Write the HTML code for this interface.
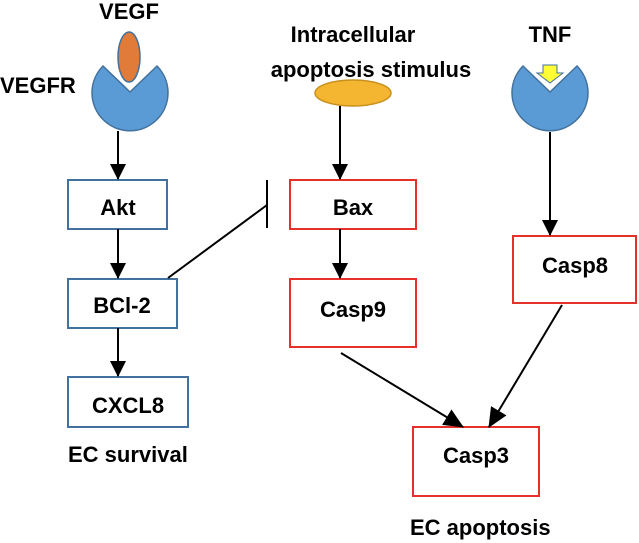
<!DOCTYPE html>
<html><head><style>
body{margin:0;background:#fff;}
svg{display:block;}
text{font-family:"Liberation Sans",sans-serif;font-size:22px;font-weight:bold;fill:#000;}
</style></head><body>
<svg width="639" height="543" viewBox="0 0 639 543" xmlns="http://www.w3.org/2000/svg">
<defs><marker id="a" markerWidth="16" markerHeight="16" refX="15" refY="8" orient="auto" markerUnits="userSpaceOnUse"><path d="M0,0 L16,8 L0,16 z" fill="#000"/></marker>
<marker id="b" markerWidth="20" markerHeight="18" refX="19" refY="9" orient="auto" markerUnits="userSpaceOnUse"><path d="M0,0 L20,9 L0,18 z" fill="#000"/></marker></defs>
<text x="129" y="19" text-anchor="middle">VEGF</text>
<text x="0" y="93">VEGFR</text>
<ellipse cx="129" cy="57" rx="11" ry="25" fill="#e07b39" stroke="#41719c" stroke-width="1.5"/>
<path d="M103,66 L130,92 L157,66 A38,38 0 1 1 103,66 Z" fill="#5b9bd5" stroke="#41719c" stroke-width="1.5"/>
<text x="353" y="42" text-anchor="middle">Intracellular</text>
<text x="371" y="77" text-anchor="middle">apoptosis stimulus</text>
<ellipse cx="353" cy="93" rx="38" ry="13" fill="#f4b530" stroke="#c8901e" stroke-width="1.5"/>
<text x="550" y="42" text-anchor="middle">TNF</text>
<path d="M523,66 L550,92 L577,66 A38,38 0 1 1 523,66 Z" fill="#5b9bd5" stroke="#41719c" stroke-width="1.5"/>
<path d="M543,65 L557,65 L557,73 L563,73 L550,83 L537,73 L543,73 Z" fill="#ffff33" stroke="#41719c" stroke-width="1"/>
<g fill="#fff" stroke="#41719c" stroke-width="2">
<rect x="68" y="180" width="99" height="49"/>
<rect x="68" y="279" width="109" height="49"/>
<rect x="68" y="377" width="120" height="50"/>
</g>
<g fill="#fff" stroke="#e8302a" stroke-width="2">
<rect x="290" y="180" width="126" height="49"/>
<rect x="290" y="279" width="126" height="68"/>
<rect x="513" y="236" width="123" height="67"/>
<rect x="413" y="427" width="126" height="69"/>
</g>
<text x="118" y="215" text-anchor="middle">Akt</text>
<text x="122" y="313" text-anchor="middle">BCl-2</text>
<text x="128" y="413" text-anchor="middle">CXCL8</text>
<text x="353" y="215" text-anchor="middle">Bax</text>
<text x="353" y="317" text-anchor="middle">Casp9</text>
<text x="575" y="273" text-anchor="middle">Casp8</text>
<text x="476" y="463" text-anchor="middle">Casp3</text>
<text x="68" y="462">EC survival</text>
<text x="410" y="535">EC apoptosis</text>
<g stroke="#000" stroke-width="2" fill="none">
<line x1="118" y1="131" x2="118" y2="179" marker-end="url(#a)"/>
<line x1="118" y1="229" x2="118" y2="278" marker-end="url(#a)"/>
<line x1="118" y1="328" x2="118" y2="376" marker-end="url(#a)"/>
<line x1="340" y1="106" x2="340" y2="179" marker-end="url(#a)"/>
<line x1="340" y1="229" x2="340" y2="278" marker-end="url(#a)"/>
<line x1="550" y1="132" x2="550" y2="235" marker-end="url(#a)"/>
<line x1="168" y1="278" x2="267" y2="205"/>
<line x1="267" y1="180" x2="267" y2="228"/>
<line x1="341" y1="353" x2="463" y2="427" marker-end="url(#b)"/>
<line x1="562" y1="305" x2="489" y2="427" marker-end="url(#b)"/>
</g>
</svg>
</body></html>
